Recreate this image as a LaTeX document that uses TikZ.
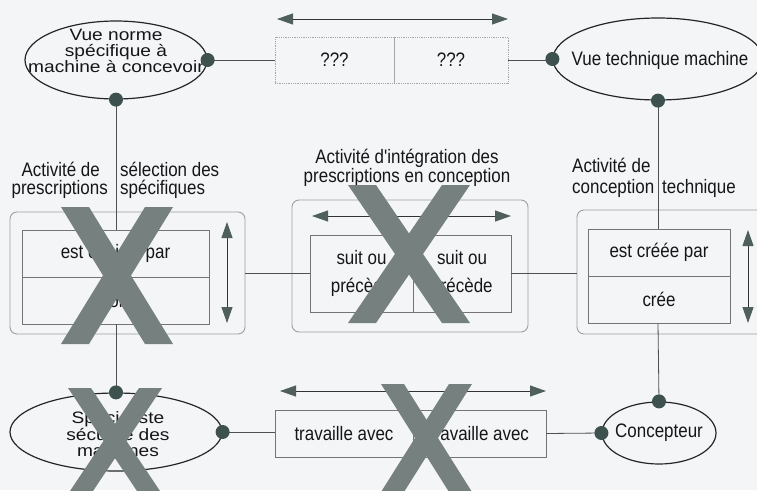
\documentclass[tikz,border=0pt]{standalone}
\usepackage{fontspec}
\setmainfont{Liberation Sans}
\newfontfamily\narrowsans{Liberation Sans}[FakeStretch=0.87]
\newfontfamily\widesans{Liberation Sans}[FakeStretch=1.16]
\usetikzlibrary{shapes.geometric,arrows.meta}
\definecolor{bgc}{HTML}{F3F5F7}
\definecolor{ink}{HTML}{161616}
\definecolor{linec}{HTML}{505050}
\definecolor{boxc}{HTML}{747474}
\definecolor{dotc}{HTML}{3D514E}
\definecolor{headc}{HTML}{4F5F5C}
\definecolor{crossc}{HTML}{76817F}

\tikzset{
  ent/.style={ellipse, draw=black!85, line width=1.2pt, inner sep=0pt},
  cell/.style={rectangle, draw=boxc, line width=0.8pt, inner sep=0pt},
  qcell/.style={rectangle, draw=gray!70, densely dotted, line width=0.8pt, inner sep=0pt},
  frame/.style={rectangle, draw=gray!75, rounded corners=7pt, line width=0.9pt, inner sep=0pt},
  wire/.style={draw=linec, line width=0.8pt},
  twoway/.style={draw=black!80, line width=0.9pt,
    {Triangle[length=16pt,width=11pt,color=headc]}-{Triangle[length=16pt,width=11pt,color=headc]}},
  txt/.style={font=\narrowsans\fontsize{19.5}{18}\selectfont, text=ink, inner sep=0pt},
  etxt/.style={font=\widesans\fontsize{16.5}{15.5}\selectfont, text=ink, inner sep=0pt, align=center},
  knob/.style={fill=dotc},
  cross/.style={fill=crossc},
}

% big X made of two slanted bands: x0,y0,x1,y1,band width
\newcommand\xmarkshape[5]{%
  \fill[cross] (#1,#2) -- ({#1+#5},#2) -- (#3,#4) -- ({#3-#5},#4) -- cycle;
  \fill[cross] ({#3-#5},#2) -- (#3,#2) -- ({#1+#5},#4) -- (#1,#4) -- cycle;
}

\begin{document}
\begin{tikzpicture}[x=1pt,y=-1pt]
\useasboundingbox (0,0) rectangle (757,490);
\clip (0,0) rectangle (757,490);
\fill[bgc] (0,0) rectangle (757,490);

% ---- top row: entities and their relation
\node[ent, minimum width=182pt, minimum height=78pt] (vn) at (116,60) {};
\node[etxt] (vntxt) at (116,51) {Vue norme\\spécifique à\\machine à concevoir};
\node[ent, minimum width=210pt, minimum height=82pt] (vt) at (658,59) {};
\node[txt] (vttxt) at (660,60) {Vue technique machine};

\node[qcell, minimum width=119pt, minimum height=46pt] (q1) at (334.5,60) {};
\node[qcell, minimum width=114pt, minimum height=46pt] (q2) at (451,60) {};
\node[txt] at (q1.center) {???};
\node[txt] at (q2.center) {???};
\coordinate (qa) at (277,19);
\coordinate (qb) at (508,19);
\draw[twoway] (qa) -- (qb);

\draw[wire] (vn.east) -- (q1.west);
\draw[wire] (q2.east) -- (vt.west |- q2.east);

% ---- middle row: activities
% left activity
\node[frame, minimum width=235pt, minimum height=122pt] (o1) at (127.5,273) {};
\node[cell, minimum width=187pt, minimum height=47pt] (a1) at (115.5,253.5) {};
\node[cell, minimum width=187pt, minimum height=47pt] (a2) at (115.5,300.5) {};
\node[txt] at (a1.center) {est choisie par};
\node[txt] at (a2.center) {choisit};
\coordinate (la) at (227,222);
\coordinate (lb) at (227,323);
\draw[twoway] (la) -- (lb);
\node[txt, anchor=base east] (l1a) at (100,176) {Activité de};
\node[txt, anchor=base west] (l1b) at (120,176) {sélection des};
\node[txt, anchor=base east] (l2a) at (108,194) {prescriptions};
\node[txt, anchor=base west] (l2b) at (120,194) {spécifiques};

% middle activity
\node[frame, minimum width=236pt, minimum height=132pt] (o2) at (410,266) {};
\node[cell, minimum width=103pt, minimum height=77pt] (m1) at (361.5,273.5) {};
\node[cell, minimum width=98pt, minimum height=77pt] (m2) at (462,273.5) {};
\node[txt, align=center, font=\narrowsans\fontsize{19.5}{28}\selectfont] at (m1.center) {suit ou\\précède};
\node[txt, align=center, font=\narrowsans\fontsize{19.5}{28}\selectfont] at (m2.center) {suit ou\\précède};
\coordinate (ma) at (312,216);
\coordinate (mb) at (511,216);
\draw[twoway] (ma) -- (mb);
\node[txt, anchor=base] (c1) at (407,163) {Activité d'intégration des};
\node[txt, anchor=base] (c2) at (407,182) {prescriptions en conception};

% right activity
\node[frame, minimum width=198pt, minimum height=124pt] (o3) at (676,272) {};
\node[cell, minimum width=142pt, minimum height=47pt] (r1) at (659,252.5) {};
\node[cell, minimum width=142pt, minimum height=47pt] (r2) at (659,299.5) {};
\node[txt] at (r1.center) {est créée par};
\node[txt] at (r2.center) {crée};
\coordinate (ra) at (748,230);
\coordinate (rb) at (748,323);
\draw[twoway] (ra) -- (rb);
\node[txt, anchor=base west] (t1) at (572,172) {Activité de};
\node[txt, anchor=base west] (t2) at (572,193) {conception};
\node[txt, anchor=base west] (t3) at (662,193) {technique};

% links between activities
\draw[wire] (o1.east) -- (m1.west |- o1.east);
\draw[wire] (m2.east) -- (o3.west |- m2.east);

% ---- bottom row
\node[ent, minimum width=212pt, minimum height=78pt] (sp) at (116,432) {};
\node[etxt] (sptxt) at (118,434) {Spécialiste\\sécurité des\\machines};
\node[ent, minimum width=114pt, minimum height=62pt] (cp) at (659,433) {};
\node[txt] (cptxt) at (659,433) {Concepteur};

\node[cell, minimum width=138pt, minimum height=47pt] (w1) at (344,433.5) {};
\node[cell, minimum width=133pt, minimum height=47pt] (w2) at (479.5,433.5) {};
\node[txt] at (w1.center) {travaille avec};
\node[txt] at (w2.center) {travaille avec};
\coordinate (wa) at (280,391);
\coordinate (wb) at (546,391);
\draw[twoway] (wa) -- (wb);

\draw[wire] (sp.east) -- (w1.west |- sp.east);
\draw[wire] (w2.east) -- (cp.west);

% ---- vertical links
\draw[wire] (vn.south) -- (vn.south |- a1.north);
\draw[wire] (vn.south |- a2.south) -- (sp.north);
\draw[wire] (vt.south) -- (vt.south |- r1.north);
\draw[wire] (vt.south |- r2.south) -- (cp.north);

% ---- attachment knobs
\foreach \p in {vn.east, vn.south, vt.west, vt.south, sp.north, sp.east, cp.west, cp.north}
  \fill[knob] (\p) circle (7pt);

% ---- crossing-out marks
\xmarkshape{61}{207}{173}{344}{28}
\xmarkshape{348}{185}{470}{323}{28}
\xmarkshape{68}{388}{162}{494}{23}
\xmarkshape{381}{384}{472}{492}{23}
\end{tikzpicture}
\end{document}
